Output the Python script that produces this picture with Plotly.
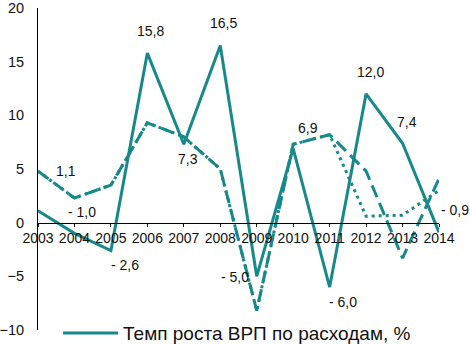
import plotly.graph_objects as go

years = ["2003", "2004", "2005", "2006", "2007", "2008", "2009",
         "2010", "2011", "2012", "2013", "2014"]
grp_expenditure = [1.1, -1.0, -2.6, 15.8, 7.3, 16.5, -5.0, 6.9, -6.0, 12.0, 7.4, -0.9]
series_dashed = [4.8, 2.3, 3.5, 9.3, 8.0, 5.0, -8.2, 7.3, 8.2, 4.8, -3.3, 4.1]
series_dotted = [4.8, 2.3, 3.5, 9.3, 8.0, 5.0, -8.2, 7.3, 8.2, 0.6, 0.7, 3.0]

# label offsets (px) for the solid-series value labels
label_dx = [28, 8, 14, 3, 4, 3, -22, 15, 13, 4, 4, 16]
label_dy = [40, 21, -14, 22, -15, 23, -1, 21, -15, 22, 21, 22]

TEAL = "#17898a"
FONT = "Arial, Liberation Sans, sans-serif"

xs = list(range(len(years)))

fig = go.Figure()
fig.add_trace(go.Scatter(
    x=xs, y=series_dotted, mode="lines", showlegend=False,
    line=dict(color=TEAL, width=3, dash="3px,4px")))
fig.add_trace(go.Scatter(
    x=xs, y=series_dashed, mode="lines", showlegend=False,
    line=dict(color=TEAL, width=3, dash="13px,6px")))
fig.add_trace(go.Scatter(
    x=xs, y=grp_expenditure, mode="lines",
    name="Темп роста ВРП по расходам, %",
    line=dict(color=TEAL, width=3)))


def fmt(v):
    s = f"{abs(v):.1f}".replace(".", ",")
    return f"- {s}" if v < 0 else s


for i, v in enumerate(grp_expenditure):
    fig.add_annotation(
        x=i, y=v, text=fmt(v), showarrow=False,
        xshift=label_dx[i], yshift=label_dy[i], xanchor="center",
        borderpad=0,
        font=dict(family=FONT, size=14, color="#111"))

fig.update_layout(
    width=470, height=344,
    margin=dict(l=37.5, r=31, t=8, b=14, autoexpand=False),
    paper_bgcolor="white", plot_bgcolor="white",
    font=dict(family=FONT, size=14, color="#111"),
    showlegend=True,
    legend=dict(x=0.05, y=-0.01, xanchor="left", yanchor="middle",
                itemwidth=55, font=dict(family=FONT, size=19, color="#111"),
                bgcolor="rgba(0,0,0,0)"),
    xaxis=dict(
        range=[0, 11], tickmode="array", tickvals=xs, ticktext=years,
        anchor="free", position=1/3,
        showline=True, linecolor="black", linewidth=1,
        ticks="outside", ticklen=3, tickcolor="black",
        showgrid=False, zeroline=False, ticklabeloverflow="allow",
        tickfont=dict(family=FONT, size=14, color="#111")),
    yaxis=dict(
        range=[-10, 20], tickmode="array", tickvals=[-10, -5, 0, 5, 10, 15, 20],
        showline=True, linecolor="black", linewidth=1,
        showgrid=False, zeroline=False, ticks="",
        ticklabelstandoff=10, ticklabeloverflow="allow",
        tickfont=dict(family=FONT, size=14.5, color="#111")),
)

fig.write_html("out.html",
               config={"displayModeBar": False},
               post_script="document.body.style.margin='0';document.body.style.overflow='hidden';")
